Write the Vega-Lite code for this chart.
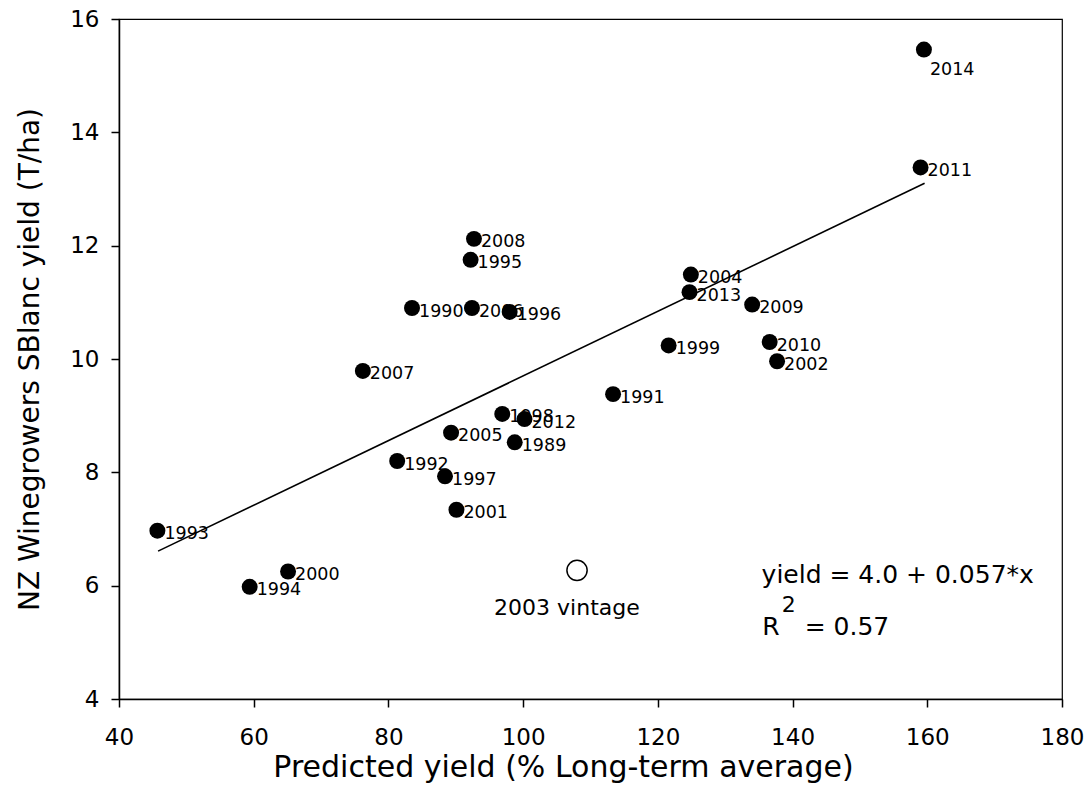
{
  "$schema": "https://vega.github.io/schema/vega-lite/v6.json",
  "width": 943,
  "height": 680,
  "autosize": "none",
  "padding": {"left": 119, "top": 19, "right": 25, "bottom": 113},
  "background": "white",
  "config": {
    "view": {"stroke": "#000000", "strokeWidth": 1.2},
    "font": "DejaVu Sans",
    "axis": {
      "grid": false,
      "domainColor": "#000000",
      "domainWidth": 1.5,
      "tickColor": "#000000",
      "tickWidth": 1.5,
      "tickSize": 8,
      "labelColor": "#000000",
      "titleColor": "#000000",
      "labelFont": "DejaVu Sans",
      "titleFont": "DejaVu Sans",
      "labelFontSize": 23,
      "titleFontWeight": "normal"
    }
  },
  "datasets": {
    "pts": [
      {"year": "1989", "x": 98.75, "y": 8.53, "kind": "filled"},
      {"year": "1990", "x": 83.5, "y": 10.90, "kind": "filled"},
      {"year": "1991", "x": 113.35, "y": 9.38, "kind": "filled"},
      {"year": "1992", "x": 81.3, "y": 8.20, "kind": "filled"},
      {"year": "1993", "x": 45.7, "y": 6.97, "kind": "filled"},
      {"year": "1994", "x": 59.4, "y": 5.98, "kind": "filled"},
      {"year": "1995", "x": 92.2, "y": 11.75, "kind": "filled"},
      {"year": "1996", "x": 98.0, "y": 10.83, "kind": "filled"},
      {"year": "1997", "x": 88.4, "y": 7.93, "kind": "filled"},
      {"year": "1998", "x": 96.9, "y": 9.03, "kind": "filled"},
      {"year": "1999", "x": 121.6, "y": 10.24, "kind": "filled"},
      {"year": "2000", "x": 65.1, "y": 6.25, "kind": "filled"},
      {"year": "2001", "x": 90.1, "y": 7.34, "kind": "filled"},
      {"year": "2002", "x": 137.7, "y": 9.96, "kind": "filled"},
      {"year": "2004", "x": 124.9, "y": 11.49, "kind": "filled"},
      {"year": "2005", "x": 89.3, "y": 8.70, "kind": "filled"},
      {"year": "2006", "x": 92.4, "y": 10.90, "kind": "filled"},
      {"year": "2007", "x": 76.2, "y": 9.79, "kind": "filled"},
      {"year": "2008", "x": 92.7, "y": 12.12, "kind": "filled"},
      {"year": "2009", "x": 134.0, "y": 10.96, "kind": "filled"},
      {"year": "2010", "x": 136.6, "y": 10.30, "kind": "filled"},
      {"year": "2011", "x": 159.0, "y": 13.38, "kind": "filled"},
      {"year": "2012", "x": 100.2, "y": 8.94, "kind": "filled"},
      {"year": "2013", "x": 124.7, "y": 11.18, "kind": "filled"},
      {"year": "2014", "x": 159.5, "y": 15.46, "kind": "filled"},
      {"year": "2003", "x": 108.0, "y": 6.27, "kind": "open"}
    ],
    "fit": [
      {"x": 45.8, "y": 6.61},
      {"x": 159.6, "y": 13.10}
    ],
    "notes": [
      {"text": "yield = 4.0 + 0.057*x", "x": 135.4, "y": 6.046, "role": "main"},
      {"text": "R", "x": 135.5, "y": 5.134, "role": "main"},
      {"text": "2", "x": 138.4, "y": 5.534, "role": "sup"},
      {"text": "= 0.57", "x": 141.8, "y": 5.134, "role": "main"}
    ],
    "vintage": [
      {"text": "2003 vintage", "x": 106.5, "y": 5.475}
    ]
  },
  "encoding": {
    "x": {
      "field": "x",
      "type": "quantitative",
      "scale": {"domain": [40, 180], "nice": false, "zero": false},
      "axis": {"values": [40, 60, 80, 100, 120, 140, 160, 180], "labelPadding": 19, "titlePadding": 3, "titleFontSize": 30, "titleX": 444, "title": "Predicted yield (% Long-term average)", "labelFlush": false}
    },
    "y": {
      "field": "y",
      "type": "quantitative",
      "scale": {"domain": [4, 16], "nice": false, "zero": false},
      "axis": {"values": [4, 6, 8, 10, 12, 14, 16], "labelPadding": 12, "titlePadding": 25, "titleFontSize": 28, "title": "NZ Winegrowers SBlanc yield (T/ha)", "labelFlush": false}
    }
  },
  "layer": [
    {
      "data": {"name": "fit"},
      "mark": {"type": "line", "color": "#000000", "strokeWidth": 1.6},
      "encoding": {}
    },
    {
      "data": {"name": "pts"},
      "transform": [{"filter": "datum.kind == 'filled' && datum.year != '2014'"}],
      "mark": {"type": "text", "align": "left", "baseline": "alphabetic", "dx": 7, "dy": 8.5, "fontSize": 17.5, "color": "#000000"},
      "encoding": {"text": {"field": "year"}}
    },
    {
      "data": {"name": "pts"},
      "transform": [{"filter": "datum.year == '2014'"}],
      "mark": {"type": "text", "align": "left", "baseline": "alphabetic", "dx": 6, "dy": 25.4, "fontSize": 17.5, "color": "#000000"},
      "encoding": {"text": {"field": "year"}}
    },
    {
      "data": {"name": "pts"},
      "transform": [{"filter": "datum.kind == 'filled'"}],
      "mark": {"type": "point", "shape": "circle", "filled": true, "size": 255, "color": "#000000", "opacity": 1}
    },
    {
      "data": {"name": "pts"},
      "transform": [{"filter": "datum.kind == 'open'"}],
      "mark": {"type": "point", "shape": "circle", "filled": false, "size": 410, "stroke": "#000000", "strokeWidth": 1.5, "fill": "#ffffff", "fillOpacity": 1, "opacity": 1}
    },
    {
      "data": {"name": "notes"},
      "transform": [{"filter": "datum.role == 'main'"}],
      "mark": {"type": "text", "align": "left", "baseline": "alphabetic", "fontSize": 25, "color": "#000000"},
      "encoding": {"text": {"field": "text"}}
    },
    {
      "data": {"name": "notes"},
      "transform": [{"filter": "datum.role == 'sup'"}],
      "mark": {"type": "text", "align": "left", "baseline": "alphabetic", "fontSize": 22, "color": "#000000"},
      "encoding": {"text": {"field": "text"}}
    },
    {
      "data": {"name": "vintage"},
      "mark": {"type": "text", "align": "center", "baseline": "alphabetic", "fontSize": 22, "color": "#000000"},
      "encoding": {"text": {"field": "text"}}
    }
  ]
}
